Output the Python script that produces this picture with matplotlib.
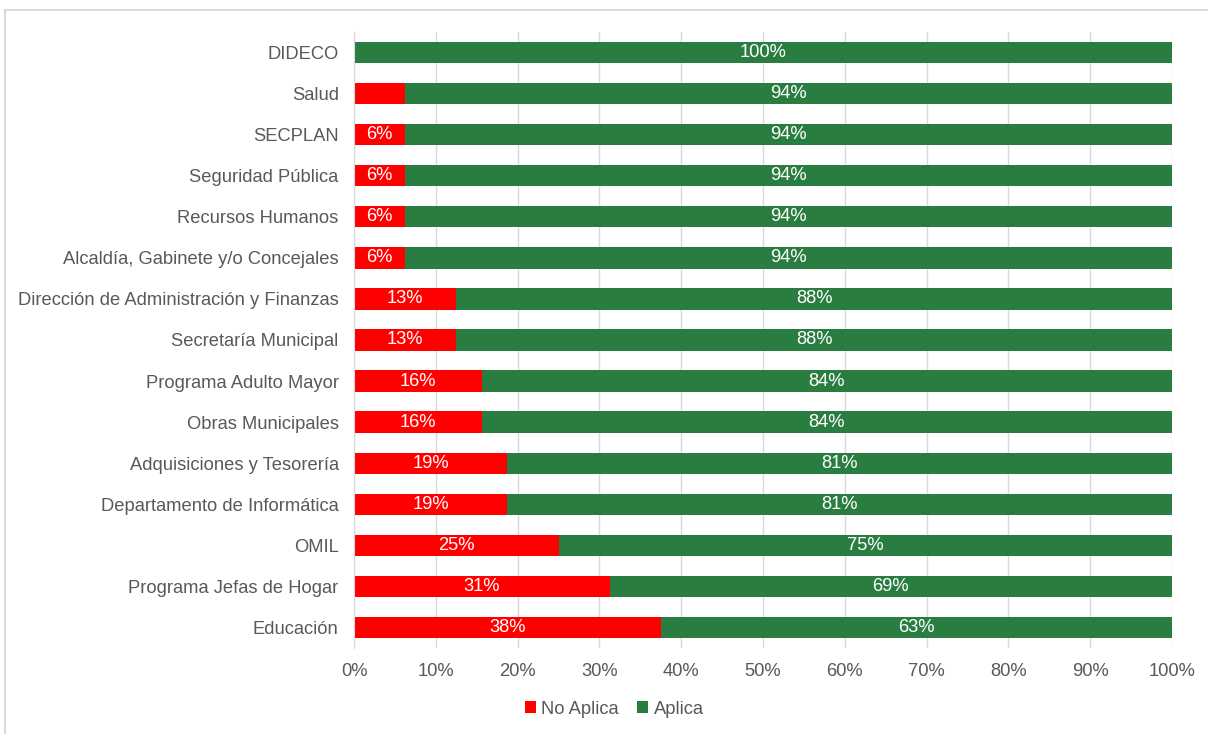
import matplotlib
matplotlib.use("Agg")
import matplotlib.pyplot as plt
from matplotlib.patches import Rectangle
import math

plt.rcParams['font.family'] = ['Liberation Sans', 'DejaVu Sans']

categories = ["DIDECO", "Salud", "SECPLAN", "Seguridad Pública", "Recursos Humanos",
              "Alcaldía, Gabinete y/o Concejales", "Dirección de Administración y Finanzas",
              "Secretaría Municipal", "Programa Adulto Mayor", "Obras Municipales",
              "Adquisiciones y Tesorería", "Departamento de Informática", "OMIL",
              "Programa Jefas de Hogar", "Educación"]
no_aplica = [0, 6.25, 6.25, 6.25, 6.25, 6.25, 12.5, 12.5, 15.625, 15.625,
             18.75, 18.75, 25, 31.25, 37.5]
aplica = [100, 93.75, 93.75, 93.75, 93.75, 93.75, 87.5, 87.5, 84.375, 84.375,
          81.25, 81.25, 75, 68.75, 62.5]
show_no_label = [False, False, True, True, True, True, True, True, True, True,
                 True, True, True, True, True]
xticks = [0, 10, 20, 30, 40, 50, 60, 70, 80, 90, 100]

RED = "#FF0000"
GREEN = "#2A7D40"
GRAY = "#595959"
FS = 13.2

fig = plt.figure(figsize=(12.08, 7.34), dpi=100)
ax = fig.add_axes([354/1208, 1-648/734, (1172-354)/1208, (648-32)/734])

y = list(range(len(categories)))
ax.barh(y, no_aplica, height=0.52, color=RED, label="No Aplica", zorder=2)
ax.barh(y, aplica, left=no_aplica, height=0.52, color=GREEN, label="Aplica", zorder=2)

def pct(v):
    return f"{int(math.floor(v + 0.5))}%"

for i in y:
    if show_no_label[i] and no_aplica[i] > 0:
        ax.text(no_aplica[i] / 2, i, pct(no_aplica[i]), ha="center", va="center",
                color="white", fontsize=FS, zorder=3)
    ax.text(no_aplica[i] + aplica[i] / 2, i, pct(aplica[i]), ha="center", va="center",
            color="white", fontsize=FS, zorder=3)

ax.set_ylim(len(categories) - 0.5, -0.5)
ax.set_xlim(0, 100)
ax.set_yticks(y)
ax.set_yticklabels(categories, fontsize=FS, color=GRAY)
ax.set_xticks(xticks)
ax.set_xticklabels([f"{t}%" for t in xticks], fontsize=FS, color=GRAY)
ax.tick_params(axis="y", length=0, pad=11)
ax.tick_params(axis="x", length=0, pad=11)
ax.grid(axis="x", color="#D9D9D9", linewidth=1, zorder=0)
for s in ["top", "right", "bottom"]:
    ax.spines[s].set_visible(False)
ax.spines["left"].set_color("#D9D9D9")

leg = fig.legend(loc="center", bbox_to_anchor=(614/1208, 1-709/734), ncol=2, frameon=False,
                 fontsize=FS, handlelength=0.6, handleheight=0.6, handletextpad=0.3,
                 columnspacing=1.0)
for t in leg.get_texts():
    t.set_color(GRAY)

fig.patches.append(Rectangle((5/1208, -0.01), 1.1, 1 - 10/734 + 0.01, transform=fig.transFigure,
                             fill=False, edgecolor="#D9D9D9", linewidth=1.5))

fig.savefig("out.png", dpi=100, facecolor="white")
